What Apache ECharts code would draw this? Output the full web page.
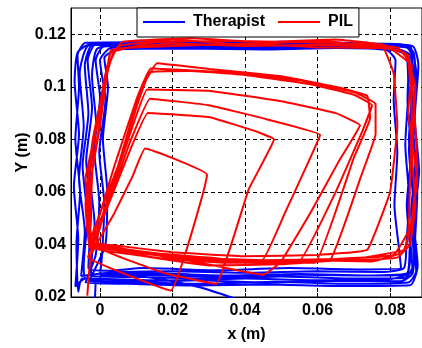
<!DOCTYPE html>
<html>
<head>
<meta charset="utf-8">
<script src="https://cdn.jsdelivr.net/npm/echarts@6/dist/echarts.min.js"></script>
<style>
  html, body { margin: 0; padding: 0; background: #fff; }
  #chart { width: 422px; height: 348px; }
</style>
</head>
<body>
<div id="chart"></div>
<script>
const xTicks = [0, 0.02, 0.04, 0.06, 0.08];
const yTicks = [0.02, 0.04, 0.06, 0.08, 0.1, 0.12];
const seriesNames = ['Therapist', 'PIL'];

// therapist: repeated loops round the outer rectangle
const therapistLoops = [
  [[-0.0014,0.0195],[-0.0012,0.026],[-0.005,0.027],[-0.006,0.022]],
  [[-0.0065,0.04],[-0.0055,0.06],[-0.0068,0.08],[-0.0058,0.1],[-0.0062,0.112],[-0.004,0.1168],[0.01,0.117],[0.03,0.1166],[0.05,0.1172],[0.07,0.1165],[0.083,0.1162],[0.0865,0.113],[0.087,0.1],[0.0865,0.08],[0.0875,0.06],[0.0868,0.04],[0.0862,0.029],[0.083,0.026],[0.065,0.0262],[0.045,0.0255],[0.025,0.0265],[0.005,0.026],[-0.004,0.027]],
  [[-0.0045,0.032],[-0.0035,0.05],[-0.0048,0.07],[-0.0032,0.09],[-0.0042,0.108],[-0.002,0.1162],[0.012,0.1168],[0.032,0.116],[0.052,0.1166],[0.072,0.1158],[0.084,0.1155],[0.0868,0.11],[0.0858,0.092],[0.087,0.072],[0.0858,0.052],[0.0866,0.033],[0.084,0.0272],[0.07,0.027],[0.05,0.0278],[0.03,0.027],[0.012,0.0276],[-0.002,0.028]],
  [[-0.0025,0.03],[-0.0015,0.048],[-0.0028,0.066],[-0.001,0.085],[-0.0022,0.104],[-0.0008,0.1145],[0.006,0.1158],[0.025,0.1162],[0.045,0.1155],[0.065,0.116],[0.08,0.1152],[0.0852,0.111],[0.0848,0.095],[0.0858,0.075],[0.0846,0.055],[0.0856,0.036],[0.0845,0.0285],[0.075,0.0282],[0.055,0.0288],[0.035,0.0282],[0.015,0.029],[0.0,0.0286]],
  [[0.0005,0.035],[0.0012,0.055],[-0.0002,0.075],[0.0015,0.095],[0.0,0.11],[0.003,0.1148],[0.02,0.1152],[0.04,0.1146],[0.06,0.1152],[0.078,0.1145],[0.0845,0.112],[0.085,0.098],[0.0842,0.078],[0.0852,0.058],[0.0845,0.04],[0.0838,0.031],[0.078,0.0295],[0.06,0.0298],[0.04,0.0292],[0.02,0.0298],[0.004,0.0294]],
  [[-0.0052,0.028],[-0.0042,0.045],[-0.0058,0.065],[-0.0045,0.085],[-0.0056,0.105],[-0.003,0.1158],[0.015,0.1162],[0.035,0.1156],[0.055,0.1163],[0.075,0.1157],[0.0855,0.1145],[0.0872,0.105],[0.0862,0.085],[0.0876,0.065],[0.0864,0.045],[0.0872,0.03],[0.085,0.0255],[0.068,0.025],[0.048,0.0258],[0.028,0.025],[0.01,0.0256],[-0.003,0.026]],
  [[0.0015,0.04],[0.002,0.06],[0.0008,0.08],[0.0022,0.1],[0.0012,0.111],[0.005,0.1143],[0.025,0.1146],[0.045,0.1142],[0.065,0.1148],[0.079,0.114],[0.0815,0.11],[0.081,0.095],[0.082,0.075],[0.0812,0.055],[0.0825,0.038],[0.083,0.031],[0.072,0.0305],[0.052,0.031],[0.032,0.0302],[0.012,0.031],[0.002,0.03]],
  [[-0.0032,0.031],[-0.0025,0.052],[-0.0038,0.072],[-0.0022,0.092],[-0.0034,0.11],[-0.001,0.1166],[0.018,0.117],[0.038,0.1164],[0.058,0.117],[0.076,0.1163],[0.0858,0.1148],[0.0862,0.1],[0.0852,0.08],[0.0866,0.06],[0.0856,0.042],[0.0862,0.03],[0.08,0.0268],[0.06,0.0264],[0.04,0.027],[0.02,0.0262],[0.004,0.0268],[-0.004,0.027]],
  [[-0.0068,0.024],[-0.006,0.042],[-0.0072,0.062],[-0.0058,0.082],[-0.007,0.102],[-0.0062,0.113],[-0.003,0.116],[0.014,0.1158],[0.034,0.1164],[0.054,0.1158],[0.074,0.1164],[0.0862,0.1155],[0.0878,0.108],[0.0868,0.088],[0.088,0.068],[0.0866,0.048],[0.0876,0.032],[0.0855,0.0245],[0.066,0.0242],[0.046,0.0248],[0.026,0.0244],[0.008,0.025],[-0.004,0.0255]],
  [[-0.0012,0.036],[-0.0002,0.056],[-0.0016,0.076],[0.0,0.096],[-0.0012,0.11],[0.001,0.1153],[0.02,0.1158],[0.04,0.1152],[0.06,0.1158],[0.08,0.115],[0.0856,0.112],[0.0862,0.096],[0.0852,0.076],[0.0864,0.056],[0.0854,0.038],[0.0846,0.029],[0.07,0.0282],[0.05,0.0286],[0.03,0.0278],[0.012,0.0285],[0.001,0.0282]],
  [[0.01,0.028],[0.02,0.026],[0.028,0.0235],[0.037,0.0195]]
];

// PIL: spiral of growing loops, then loops on the outer rectangle
const pilLoops = [
  [[-0.0035,0.0205],[-0.0025,0.036],[0.004,0.052],[0.009,0.066],[0.0124,0.0765],[0.0295,0.0665],[0.0195,0.0225],[-0.0033,0.0352]],
  [[0.0,0.047],[0.006,0.068],[0.0132,0.09],[0.03,0.0885],[0.042,0.0835],[0.048,0.08],[0.041,0.061],[0.032,0.025],[0.018,0.029],[0.006,0.035],[-0.002,0.04]],
  [[0.003,0.058],[0.008,0.078],[0.0138,0.0955],[0.03,0.093],[0.045,0.088],[0.0607,0.0817],[0.057,0.07],[0.051,0.052],[0.0447,0.034],[0.03,0.034],[0.015,0.036],[0.004,0.039],[-0.001,0.041]],
  [[0.003,0.06],[0.009,0.085],[0.013,0.099],[0.03,0.0985],[0.05,0.0945],[0.065,0.09],[0.0717,0.0854],[0.066,0.072],[0.058,0.052],[0.0497,0.033],[0.045,0.0285],[0.035,0.031],[0.02,0.035],[0.006,0.038],[-0.002,0.039]],
  [[0.004,0.065],[0.01,0.092],[0.0138,0.1055],[0.025,0.106],[0.04,0.1045],[0.058,0.101],[0.07,0.097],[0.075,0.093],[0.072,0.082],[0.065,0.06],[0.0546,0.033],[0.04,0.033],[0.025,0.034],[0.01,0.037],[-0.003,0.04]],
  [[0.005,0.07],[0.011,0.098],[0.0157,0.109],[0.03,0.1068],[0.05,0.104],[0.065,0.1],[0.0737,0.0966],[0.0745,0.088],[0.07,0.073],[0.0593,0.033],[0.045,0.033],[0.03,0.035],[0.012,0.037],[-0.002,0.041]],
  [[0.004,0.07],[0.01,0.095],[0.014,0.107],[0.035,0.1055],[0.055,0.1025],[0.07,0.098],[0.076,0.0935],[0.076,0.082],[0.072,0.066],[0.0634,0.034],[0.05,0.0335],[0.03,0.034],[0.01,0.037],[-0.003,0.0395]],
  [[-0.003,0.06],[0.0,0.085],[0.002,0.105],[0.004,0.114],[0.02,0.1165],[0.04,0.1155],[0.06,0.116],[0.078,0.115],[0.081,0.105],[0.082,0.085],[0.08,0.06],[0.0737,0.038],[0.06,0.036],[0.04,0.0355],[0.02,0.037],[0.005,0.0395],[-0.003,0.041]],
  [[-0.004,0.055],[-0.002,0.08],[0.001,0.1],[0.003,0.113],[0.015,0.117],[0.035,0.1175],[0.055,0.117],[0.07,0.1165],[0.082,0.115],[0.085,0.11],[0.086,0.09],[0.0855,0.065],[0.085,0.045],[0.081,0.036],[0.065,0.0345],[0.045,0.034],[0.025,0.035],[0.008,0.038],[-0.003,0.0405]],
  [[-0.0035,0.06],[-0.001,0.085],[0.0015,0.105],[0.005,0.1155],[0.02,0.118],[0.04,0.116],[0.06,0.1175],[0.075,0.1155],[0.084,0.113],[0.087,0.1],[0.086,0.075],[0.087,0.055],[0.0855,0.04],[0.082,0.035],[0.07,0.034],[0.05,0.0335],[0.03,0.0345],[0.01,0.037],[-0.002,0.04]],
  [[-0.004,0.065],[0.0,0.09],[0.002,0.108],[0.006,0.117],[0.025,0.1185],[0.045,0.117],[0.065,0.118],[0.078,0.116],[0.085,0.112],[0.0865,0.095],[0.0875,0.07],[0.086,0.05],[0.084,0.038],[0.07,0.0345],[0.05,0.0325],[0.03,0.032],[0.01,0.036],[-0.003,0.039]],
  [[-0.002,0.07],[0.001,0.095],[0.003,0.114],[0.02,0.1155],[0.04,0.1165],[0.06,0.115],[0.08,0.1145],[0.086,0.108],[0.085,0.09],[0.0875,0.065],[0.0855,0.045],[0.0835,0.037],[0.075,0.0335],[0.055,0.034],[0.035,0.033],[0.015,0.035],[0.0,0.039]]
];

const font = 'Liberation Sans, Arial, Helvetica, sans-serif';
const fmt = v => String(+(+v).toFixed(3));

var myChart = echarts.init(document.getElementById('chart'), null, {renderer: 'canvas'});
var option = {
  animation: false,
  backgroundColor: '#fff',
  grid: {
    left: 71, top: 8, right: 0, bottom: 45,
    show: true, borderColor: '#000', borderWidth: 1
  },
  legend: {
    data: seriesNames,
    left: 137, top: 8,
    padding: [6, 6, 7, 6],
    itemGap: 13,
    icon: 'rect',
    itemWidth: 42, itemHeight: 2,
    backgroundColor: '#fff',
    borderColor: '#000', borderWidth: 1, borderRadius: 0,
    textStyle: {color: '#000', fontSize: 16, fontWeight: 'bold', fontFamily: font, padding: [0, 0, 0, 3]}
  },
  xAxis: {
    type: 'value',
    min: -0.008, max: 0.0888,
    name: 'x (m)', nameLocation: 'middle', nameGap: 30,
    nameTextStyle: {color: '#000', fontSize: 16, fontWeight: 'bold', fontFamily: font},
    axisLine: {show: true, onZero: false, lineStyle: {color: '#000', width: 1}},
    axisTick: {show: true, inside: true, length: 4, customValues: xTicks, lineStyle: {color: '#000'}},
    axisLabel: {customValues: xTicks, margin: 6, color: '#000', fontSize: 16, fontWeight: 'bold', fontFamily: font, formatter: fmt},
    splitLine: {show: true, lineStyle: {color: '#000', width: 1, type: [4, 3]}}
  },
  yAxis: {
    type: 'value',
    min: 0.02, max: 0.13,
    name: 'Y (m)', nameLocation: 'middle', nameGap: 40, nameRotate: 90,
    nameMoveOverlap: false,
    nameTextStyle: {color: '#000', fontSize: 16, fontWeight: 'bold', fontFamily: font},
    axisLine: {show: true, onZero: false, lineStyle: {color: '#000', width: 1}},
    axisTick: {show: true, inside: true, length: 4, customValues: yTicks, lineStyle: {color: '#000'}},
    axisLabel: {customValues: yTicks, margin: 5, color: '#000', fontSize: 16, fontWeight: 'bold', fontFamily: font, formatter: fmt},
    splitLine: {show: true, lineStyle: {color: '#000', width: 1, type: [4, 3]}}
  },
  series: [
    {
      name: seriesNames[0], type: 'line',
      data: therapistLoops.flat(),
      symbol: 'none', smooth: 0.2, clip: true,
      lineStyle: {color: '#0000ff', width: 2},
      itemStyle: {color: '#0000ff'}
    },
    {
      name: seriesNames[1], type: 'line',
      data: pilLoops.flat(),
      symbol: 'none', smooth: 0.08, clip: true,
      lineStyle: {color: '#ff0000', width: 2},
      itemStyle: {color: '#ff0000'}
    }
  ]
};
option && myChart.setOption(option);
</script>
</body>
</html>
